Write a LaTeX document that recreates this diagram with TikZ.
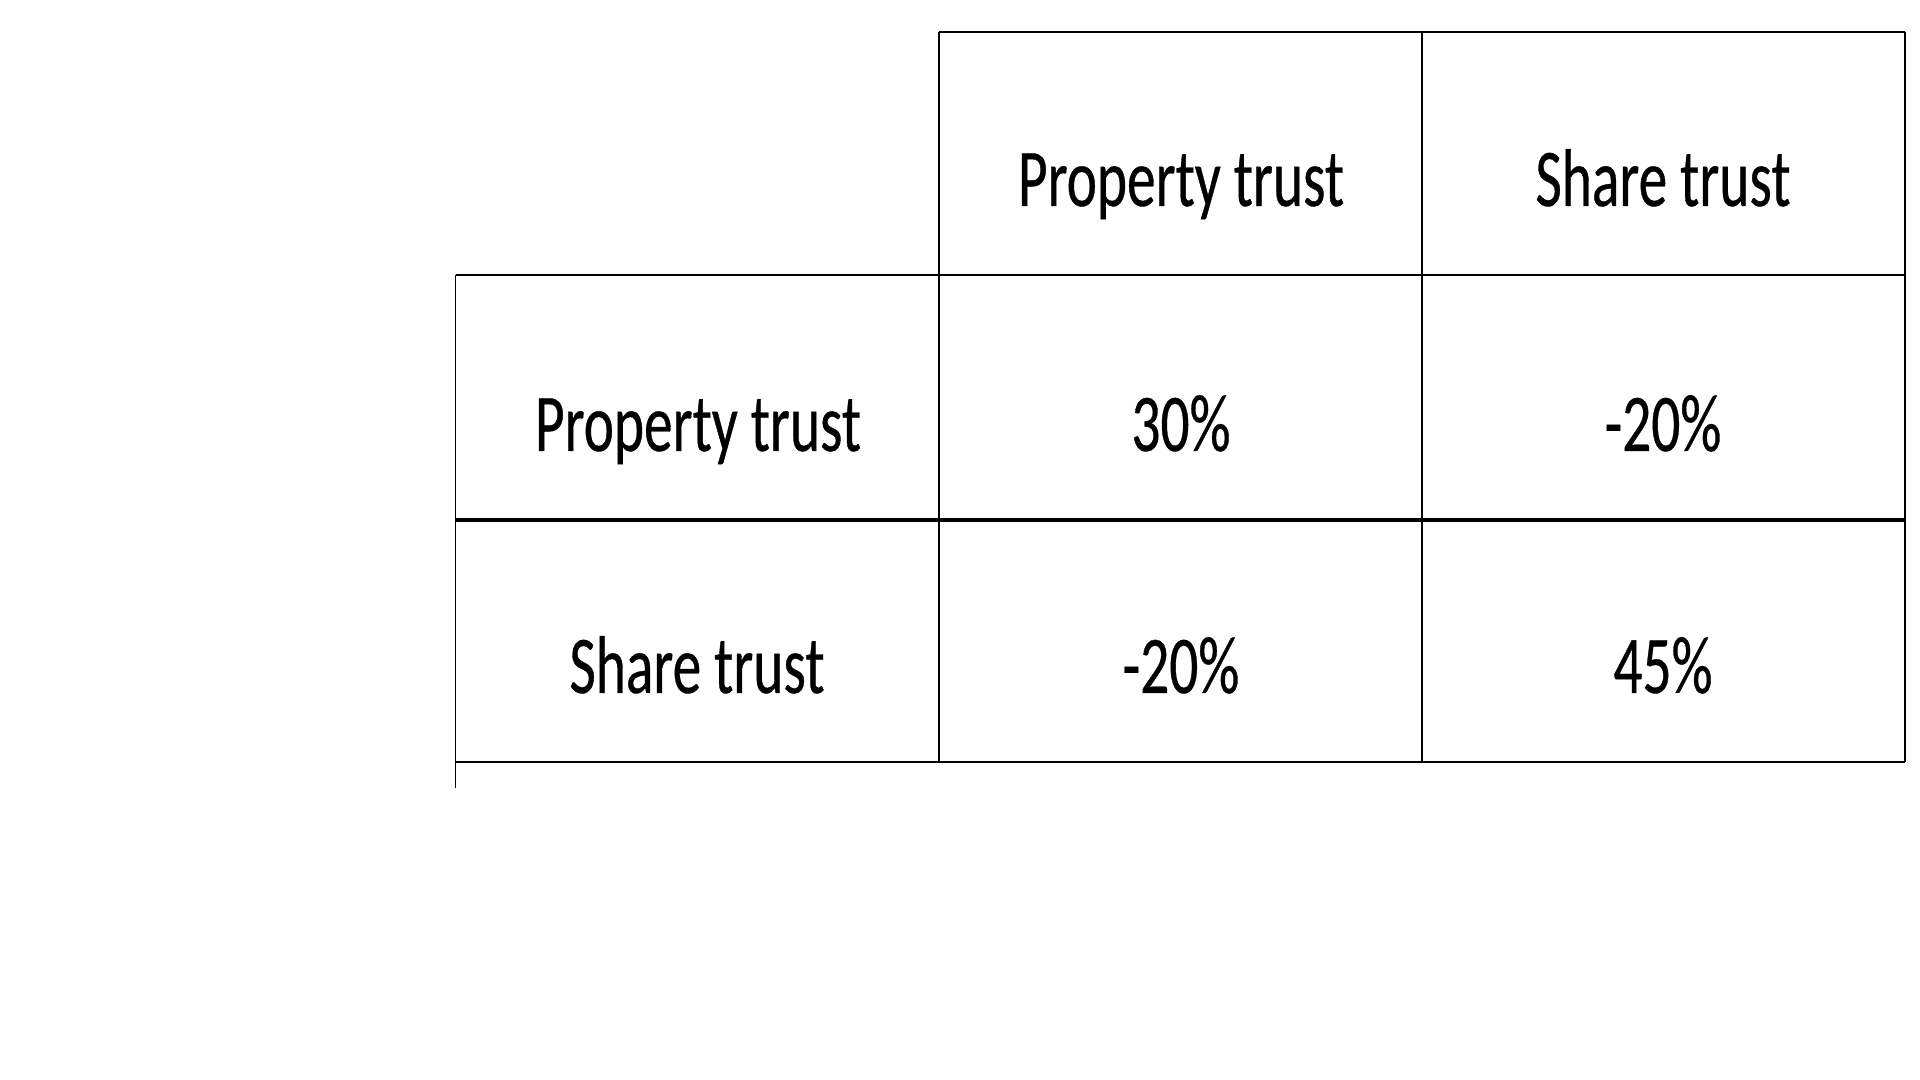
\documentclass[tikz,border=0pt]{standalone}
\usepackage{fontspec}
\setmainfont[FakeStretch=0.70,FakeBold=0.4]{Carlito}
\usetikzlibrary{positioning}
\tikzset{
    %Define style for cell texts
    celltext/.style={
           anchor=base,
           inner sep=0pt,
           font=\fontsize{23.3pt}{28pt}\selectfont},
    % Define line styles
    thinrule/.style={line width=0.5pt},
    midrule/.style={line width=0.8pt},
    heavyrule/.style={line width=1.4pt}
}
\begin{document}
\begin{tikzpicture}[x=0.01cm,y=-0.01cm]
\useasboundingbox (0,0) rectangle (1920,1080);
 %grid points
\coordinate (a1) at (939,31.7);
\coordinate (a2) at (1421.7,31.7);
\coordinate (a3) at (1905,31.7);
\coordinate (b0) at (455.5,275);
\coordinate (b3) at (1905,275);
\coordinate (c0) at (455.5,520);
\coordinate (c3) at (1905,520);
\coordinate (d0) at (455.5,762);
\coordinate (d1) at (939,762);
\coordinate (d2) at (1421.7,762);
\coordinate (d3) at (1905,762);
\coordinate (e0) at (455.5,788);

 %rules
\draw[thinrule] (a1) -- (a3);
\draw[midrule] (b0) -- (b3);
\draw[heavyrule] (c0) -- (c3);
\draw[midrule] (d0) -- (d3);
\draw[thinrule] (b0) -- (e0);
\draw[thinrule] (a1) -- (d1);
\draw[thinrule] (a2) -- (d2);
\draw[midrule] (a3) -- (d3);

 %texts
\node[celltext] (hprop) at (1181,206) {Property trust};
\node[celltext] (hshare) at (1663,206) {Share trust};
\node[celltext] (rprop) at (698,451) {Property trust};
\node[celltext] (rshare) at (697,693) {Share trust};
\node[celltext] (pp) at (1181,451) {30\%};
\node[celltext] (ps) at (1663,451) {-20\%};
\node[celltext] (sp) at (1181,693) {-20\%};
\node[celltext] (ss) at (1663,693) {45\%};
\end{tikzpicture}
\end{document}
